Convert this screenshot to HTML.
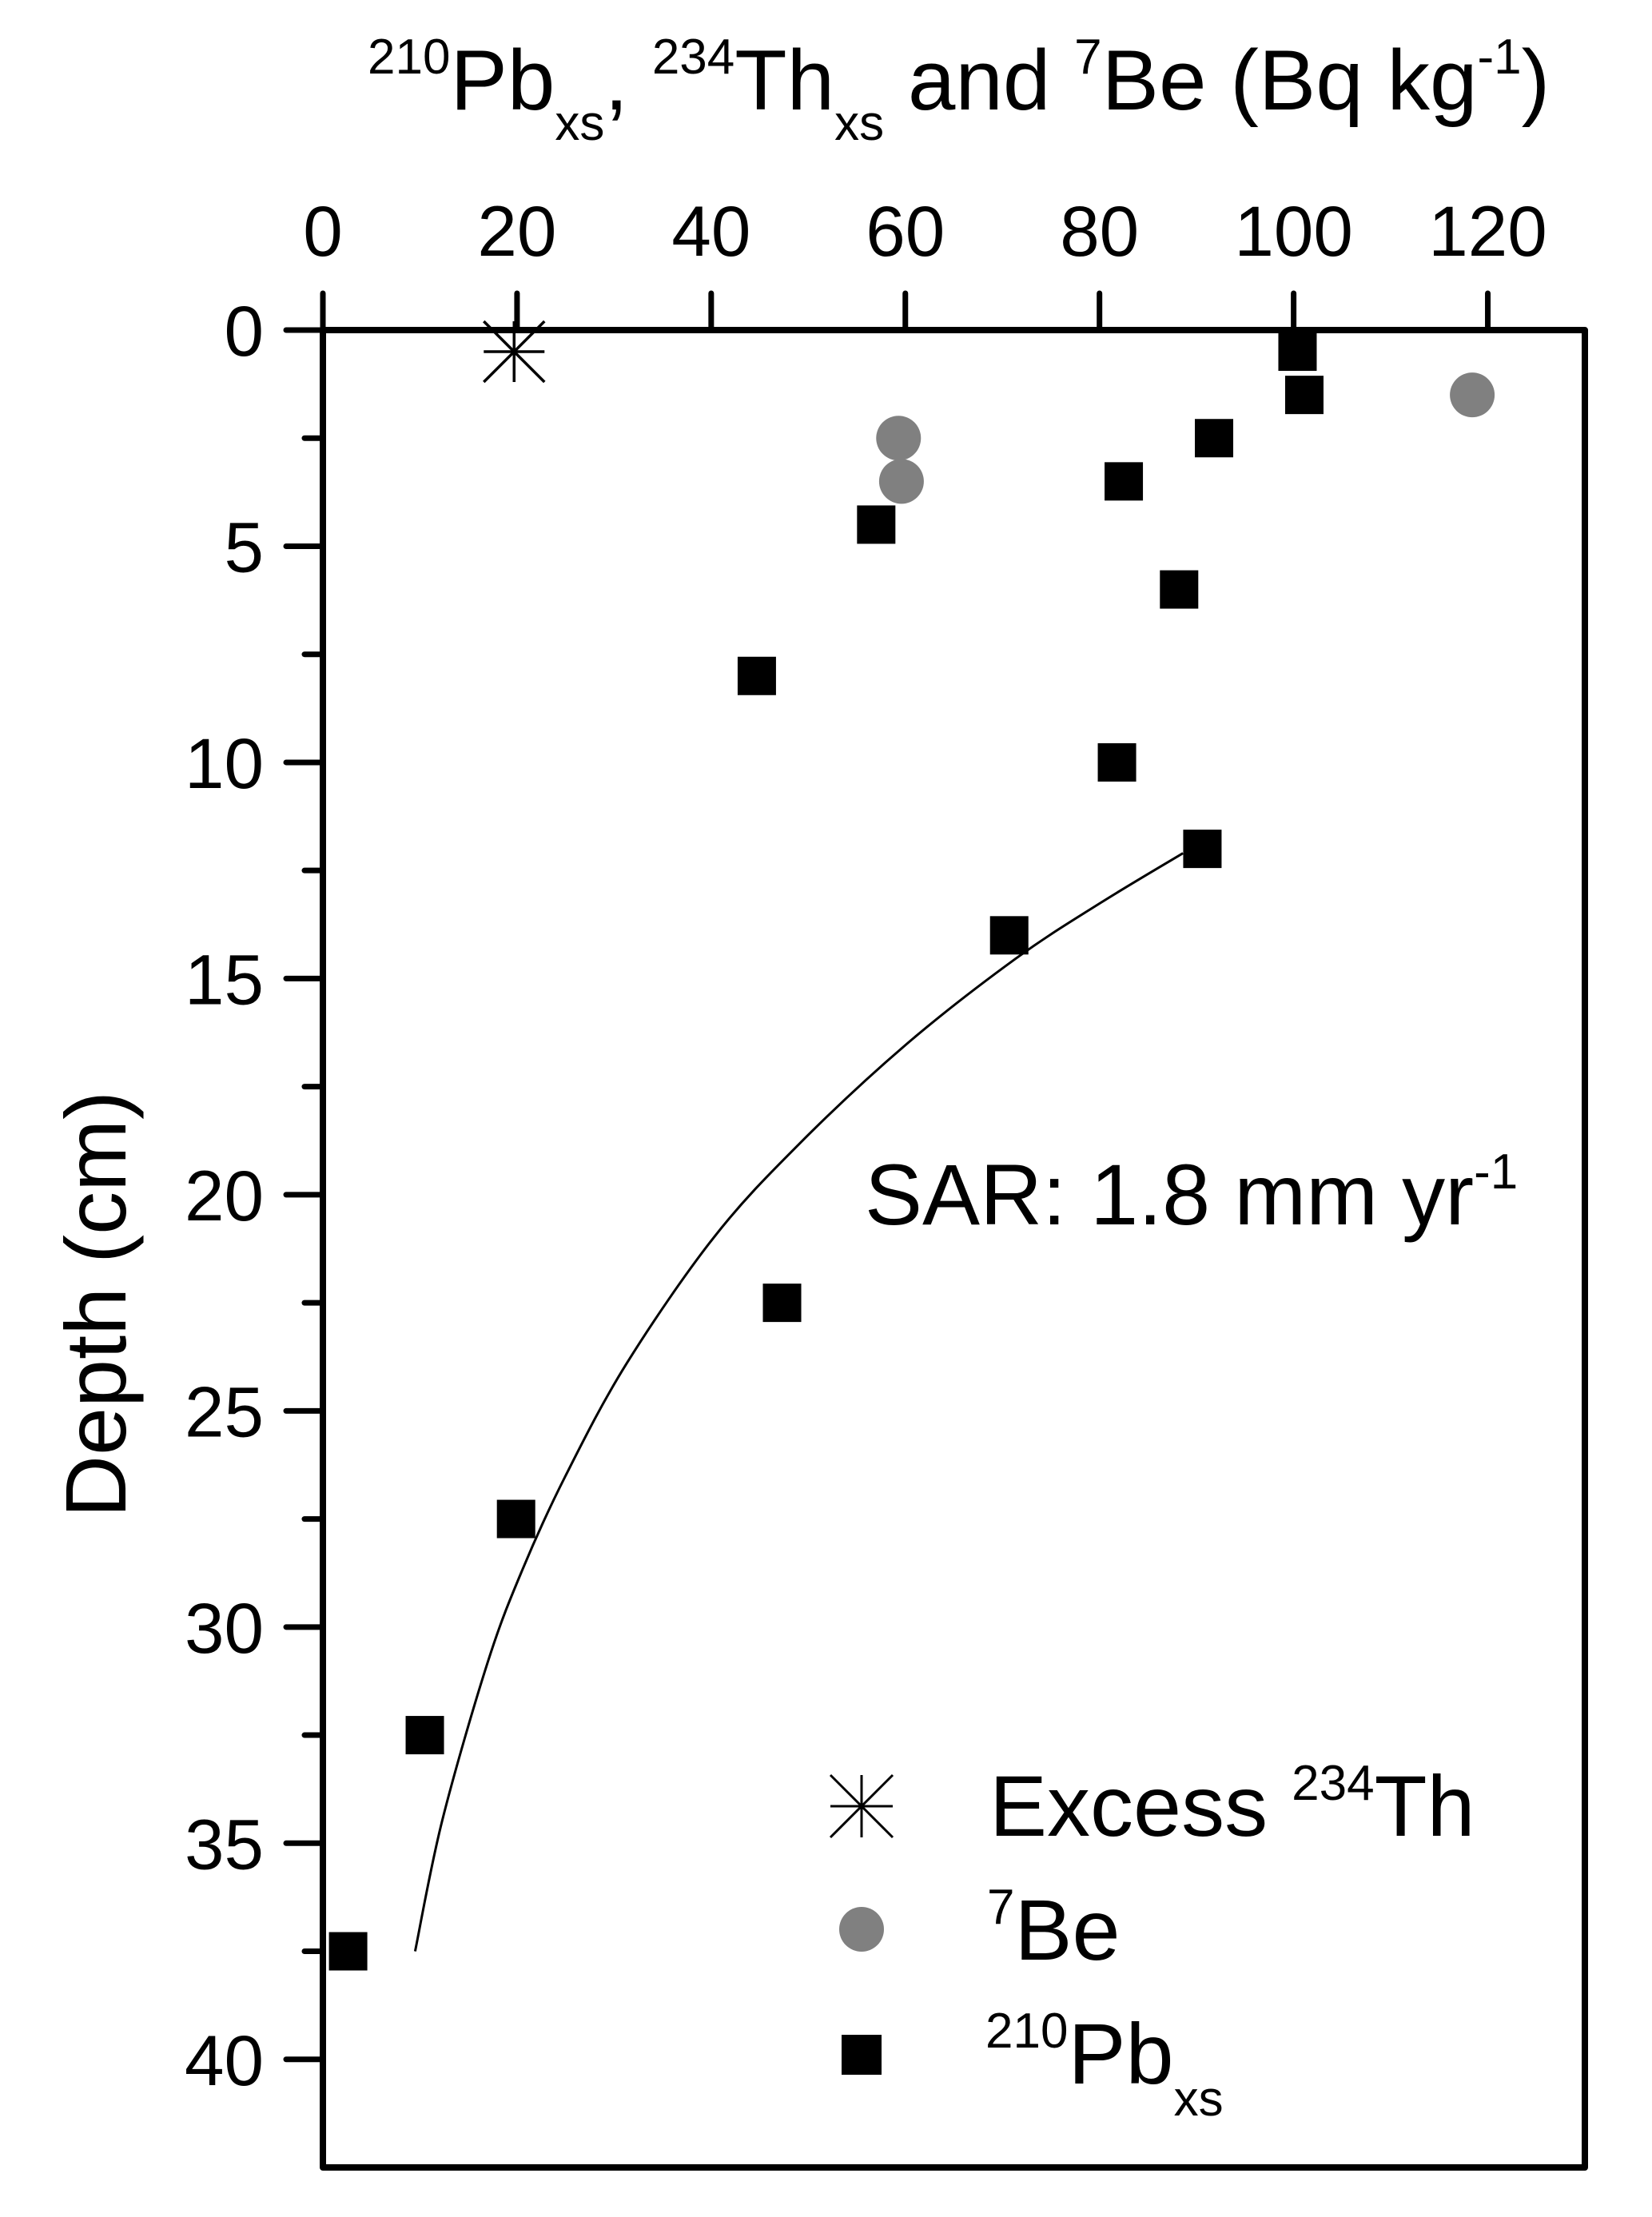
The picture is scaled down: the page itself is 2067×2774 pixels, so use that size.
<!DOCTYPE html>
<html><head><meta charset="utf-8"><style>
html,body{margin:0;padding:0;background:#fff;}
svg{display:block;font-family:"Liberation Sans",Arial,sans-serif;}
</style></head><body>
<svg id="chart" width="2067" height="2774" viewBox="0 0 2067 2774" xmlns="http://www.w3.org/2000/svg">
<g id="axes"></g>
<g id="marks"></g>
<text x="460" y="137" font-size="107"><tspan font-size="62" dy="-45">210</tspan><tspan dy="45">Pb</tspan><tspan font-size="62" dy="38">xs</tspan><tspan dy="-38">, </tspan><tspan font-size="62" dy="-45">234</tspan><tspan dy="45">Th</tspan><tspan font-size="62" dy="38">xs</tspan><tspan dy="-38"> and </tspan><tspan font-size="62" dy="-45">7</tspan><tspan dy="45">Be (Bq kg</tspan><tspan font-size="62" dy="-45">-1</tspan><tspan dy="45">)</tspan></text>
<text transform="translate(157,1632) rotate(-90)" text-anchor="middle" font-size="108">Depth (cm)</text>
<text x="1082" y="1532" font-size="108">SAR: 1.8 mm yr<tspan font-size="62" dy="-45">-1</tspan></text>
<g>
  <g>
    <g stroke="#000" stroke-width="3">
      <line x1="1039" y1="2260" x2="1117" y2="2260"/><line x1="1078" y1="2221" x2="1078" y2="2299"/>
      <line x1="1039" y1="2221" x2="1117" y2="2299"/><line x1="1117" y1="2221" x2="1039" y2="2299"/>
    </g>
    <text x="1238" y="2297" font-size="108">Excess <tspan font-size="62" dy="-45">234</tspan><tspan dy="45">Th</tspan></text>
  </g>
  <g>
    <circle cx="1078" cy="2414" r="28" fill="#808080"/>
    <text x="1235" y="2452" font-size="108"><tspan font-size="62" dy="-45">7</tspan><tspan dy="45">Be</tspan></text>
  </g>
  <g>
    <rect x="1053" y="2546" width="50" height="50" fill="#000"/>
    <text x="1233" y="2607" font-size="108"><tspan font-size="62" dy="-45">210</tspan><tspan dy="45">Pb</tspan><tspan font-size="62" dy="40">xs</tspan></text>
  </g>
</g>
</svg>
<script>
const xTicks = [0, 20, 40, 60, 80, 100, 120];
const yTicks = [0, 5, 10, 15, 20, 25, 30, 35, 40];
const yMinorTicks = [2.5, 7.5, 12.5, 17.5, 22.5, 27.5, 32.5, 37.5];
const pbValues = [100.4, 101.1, 91.8, 82.5, 57.0, 88.2, 44.7, 81.8, 90.6, 70.7, 47.3, 19.9, 10.5, 2.6];
const pbDepths = [0.5, 1.5, 2.5, 3.5, 4.5, 6.0, 8.0, 10.0, 12.0, 14.0, 22.5, 27.5, 32.5, 37.5];
const beValues = [118.4, 59.3, 59.6];
const beDepths = [1.5, 2.5, 3.5];
const thValues = [19.7];
const thDepths = [0.5];
const fitValues = [88.6, 80.1, 71.3, 60.0, 49.0, 40.3, 31.3, 25.0, 20.6, 17.0, 12.3, 9.5];
const fitDepths = [12.1, 13.25, 14.55, 16.54, 18.84, 20.98, 23.9, 26.5, 28.65, 30.8, 34.47, 37.5];

const L = 404, R = 1983, T = 413, B = 2712, XMAX = 130, YMAX = 42.5;
const sx = v => L + v * (R - L) / XMAX;
const sy = d => T + d * (B - T) / YMAX;
const NS = 'http://www.w3.org/2000/svg';
function mk(tag, attrs, parent) {
  const e = document.createElementNS(NS, tag);
  for (const k in attrs) e.setAttribute(k, attrs[k]);
  parent.appendChild(e);
  return e;
}
const axes = document.getElementById('axes');
const marks = document.getElementById('marks');

const frame = mk('rect', {x: L, y: T, width: R - L, height: B - T, fill: 'none', stroke: '#000', 'stroke-width': 8, 'stroke-linejoin': 'round'}, axes);



xTicks.forEach(v => {
  const t = mk('line', {x1: sx(v), x2: sx(v), y1: T, y2: T - 46, stroke: '#000', 'stroke-width': 7, 'stroke-linecap': 'round'}, axes);
  
  
  const lb = mk('text', {x: sx(v), y: 320, 'text-anchor': 'middle', 'font-size': 89}, axes);
  lb.textContent = v;
  
  
});
yTicks.forEach(v => {
  const t = mk('line', {x1: L, x2: L - 46, y1: sy(v), y2: sy(v), stroke: '#000', 'stroke-width': 7, 'stroke-linecap': 'round'}, axes);
  
  
  const lb = mk('text', {x: 330, y: sy(v) + 32, 'text-anchor': 'end', 'font-size': 89}, axes);
  lb.textContent = v;
  
  
});
yMinorTicks.forEach(v => {
  const t = mk('line', {x1: L, x2: L - 23, y1: sy(v), y2: sy(v), stroke: '#000', 'stroke-width': 7, 'stroke-linecap': 'round'}, axes);
  
  
});

const pts = fitValues.map((v, i) => [sx(v), sy(fitDepths[i])]);
let d = `M${pts[0][0]},${pts[0][1]}`;
for (let i = 0; i < pts.length - 1; i++) {
  const p0 = pts[Math.max(0, i - 1)], p1 = pts[i], p2 = pts[i + 1], p3 = pts[Math.min(pts.length - 1, i + 2)];
  const c1 = [p1[0] + (p2[0] - p0[0]) / 6, p1[1] + (p2[1] - p0[1]) / 6];
  const c2 = [p2[0] - (p3[0] - p1[0]) / 6, p2[1] - (p3[1] - p1[1]) / 6];
  d += ` C${c1[0]},${c1[1]} ${c2[0]},${c2[1]} ${p2[0]},${p2[1]}`;
}
const fit = mk('path', {d: d, fill: 'none', stroke: '#000', 'stroke-width': 3}, marks);



pbValues.forEach((v, i) => {
  const r = mk('rect', {x: sx(v) - 24, y: sy(pbDepths[i]) - 24, width: 48, height: 48, fill: '#000'}, marks);
  
  
});
beValues.forEach((v, i) => {
  const c = mk('circle', {cx: sx(v), cy: sy(beDepths[i]), r: 28, fill: '#808080'}, marks);
  
  
});
thValues.forEach((v, i) => {
  const x = sx(v), y = sy(thDepths[i]), s = 38;
  const g = mk('g', {stroke: '#000', 'stroke-width': 3.5}, marks);
  
  
  mk('line', {x1: x - s, y1: y, x2: x + s, y2: y}, g);
  mk('line', {x1: x, y1: y - s, x2: x, y2: y + s}, g);
  mk('line', {x1: x - s, y1: y - s, x2: x + s, y2: y + s}, g);
  mk('line', {x1: x + s, y1: y - s, x2: x - s, y2: y + s}, g);
});
</script>
</body></html>
